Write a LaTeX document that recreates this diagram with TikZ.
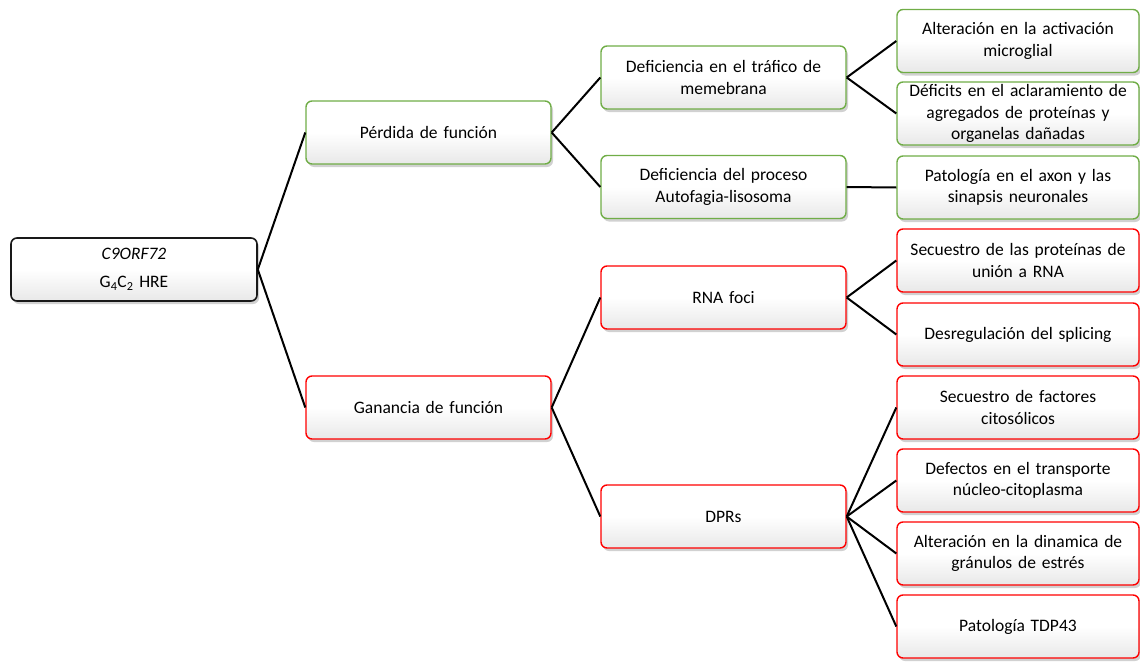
\documentclass[tikz,border=0pt]{standalone}
\usepackage{fontspec}
\setmainfont{Carlito}
\usetikzlibrary{shadows}
\definecolor{boxgreen}{RGB}{112,173,71}
\definecolor{boxred}{RGB}{255,0,0}
\tikzset{
  box/.style={rounded corners=6pt, line width=1.4pt, minimum height=63pt,
    align=center, inner sep=2pt, top color=white, bottom color=black!9, middle color=white,
    drop shadow={shadow xshift=2pt, shadow yshift=-3pt, opacity=0.3, fill=black!60},
    font=\fontsize{17.5}{21.5}\selectfont},
  rootbox/.style={box, draw=black!90, line width=1.6pt, minimum width=246pt, text width=240pt,
    font=\fontsize{17.5}{28}\selectfont},
  gbox/.style={box, draw=boxgreen, minimum width=245pt, text width=240pt},
  rbox/.style={box, draw=boxred, minimum width=245pt, text width=240pt},
  gleaf/.style={gbox, minimum width=242pt, text width=238pt},
  rleaf/.style={rbox, minimum width=242pt, text width=238pt},
  link/.style={draw=black, line width=2pt}
}
\begin{document}
\begin{tikzpicture}[x=1pt,y=-1pt]
\useasboundingbox (0,0) rectangle (1140,661);
\node[rootbox] (root) at (134,269.5) {\textit{C9ORF72}\\G\textsubscript{4}C\textsubscript{2} HRE};
\node[gbox] (perd) at (428.5,132.5) {Pérdida de función};
\node[rbox] (gan) at (428.5,407.5) {Ganancia de función};
\node[gbox] (traf) at (723.5,77.5) {Deficiencia en el tráfico de\\memebrana};
\node[gbox] (auto) at (723.5,187) {Deficiencia del proceso\\Autofagia-lisosoma};
\node[rbox] (rna) at (723.5,297.5) {RNA foci};
\node[rbox] (dpr) at (723.5,516.5) {DPRs};
\node[gleaf] (micro) at (1018,41) {Alteración en la activación\\microglial};
\node[gleaf] (defi) at (1018,113.5) {Déficits en el aclaramiento de\\agregados de proteínas y\\organelas dañadas};
\node[gleaf] (axon) at (1018,187.5) {Patología en el axon y las\\sinapsis neuronales};
\node[rleaf] (secr) at (1018,260.5) {Secuestro de las proteínas de\\unión a RNA};
\node[rleaf] (splic) at (1018,334.5) {Desregulación del splicing};
\node[rleaf] (secf) at (1018,407.5) {Secuestro de factores\\citosólicos};
\node[rleaf] (trans) at (1018,480.5) {Defectos en el transporte\\núcleo-citoplasma};
\node[rleaf] (gran) at (1018,553.5) {Alteración en la dinamica de\\gránulos de estrés};
\node[rleaf] (tdp) at (1018,626.5) {Patología TDP43};
\draw[link] (root.east) -- (perd.west);
\draw[link] (root.east) -- (gan.west);
\draw[link] (perd.east) -- (traf.west);
\draw[link] (perd.east) -- (auto.west);
\draw[link] (gan.east) -- (rna.west);
\draw[link] (gan.east) -- (dpr.west);
\draw[link] (traf.east) -- (micro.west);
\draw[link] (traf.east) -- (defi.west);
\draw[link] (auto.east) -- (axon.west);
\draw[link] (rna.east) -- (secr.west);
\draw[link] (rna.east) -- (splic.west);
\draw[link] (dpr.east) -- (secf.west);
\draw[link] (dpr.east) -- (trans.west);
\draw[link] (dpr.east) -- (gran.west);
\draw[link] (dpr.east) -- (tdp.west);
\end{tikzpicture}
\end{document}
